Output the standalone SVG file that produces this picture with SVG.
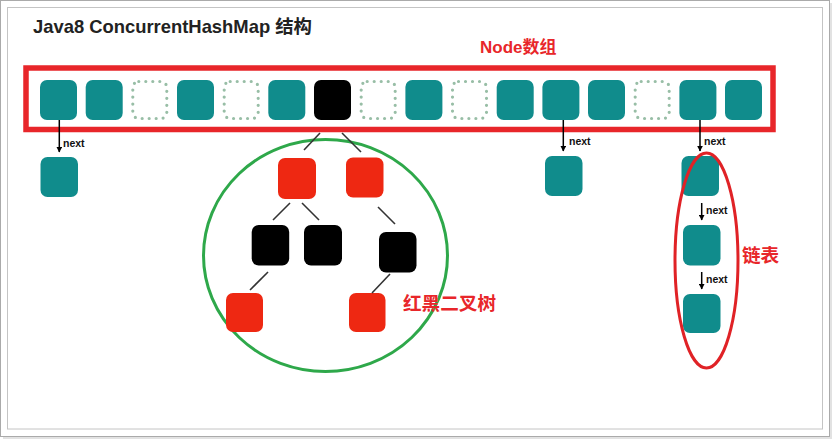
<svg xmlns="http://www.w3.org/2000/svg" width="835" height="442" viewBox="0 0 835 442">
<defs>
<style>
.t{fill:#108c8c}
.b{fill:#000}
.r{fill:#ee2812}
.d{fill:none;stroke:#98bea6;stroke-width:3.2;stroke-dasharray:0 7;stroke-linecap:round}
.ln{stroke:#333;stroke-width:1.6;fill:none}
.ar{stroke:#000;stroke-width:1.5;fill:none}
.nx{font-family:"Liberation Sans",Arial,sans-serif;font-weight:bold;font-size:10.5px;fill:#111}
.lbl{font-family:"Liberation Sans","Noto Sans CJK SC",sans-serif;font-weight:bold;font-size:17px;fill:#e8262a}
.cn{font-size:18.6px}
</style>
<marker id="ah" viewBox="0 0 10 10" refX="9" refY="5" markerWidth="6" markerHeight="6" orient="auto" markerUnits="userSpaceOnUse"><path d="M0,0 L10,5 L0,10 z" fill="#000"/></marker>
</defs>
<rect x="3" y="3" width="829" height="436" fill="#e2e2e2"/>
<rect x="0.5" y="0.5" width="829" height="436" fill="#fff" stroke="#aaa"/>
<rect x="7.5" y="7.5" width="815" height="421.5" fill="#fff" stroke="#c4c4c4"/>
<text x="33" y="33" font-family="'Liberation Sans','Noto Sans CJK SC',sans-serif" font-weight="bold" font-size="18.4" fill="#222">Java8 ConcurrentHashMap 结构</text>
<text class="lbl" x="480" y="53">Node数组</text>
<g id="node-array">
<rect x="26" y="68" width="747" height="61.5" fill="none" stroke="#e8262a" stroke-width="5.5"/>
<rect class="t" x="40" y="80" width="37" height="40" rx="7"/>
<rect class="t" x="85.7" y="80" width="37" height="40" rx="7"/>
<rect class="d" x="132.8" y="81.5" width="34" height="37" rx="6"/>
<rect class="t" x="177" y="80" width="37" height="40" rx="7"/>
<rect class="d" x="224.2" y="81.5" width="34" height="37" rx="6"/>
<rect class="t" x="268.3" y="80" width="37" height="40" rx="7"/>
<rect class="b" x="314" y="80" width="37" height="40" rx="7"/>
<rect class="d" x="361.2" y="81.5" width="34" height="37" rx="6"/>
<rect class="t" x="405.4" y="80" width="37" height="40" rx="7"/>
<rect class="d" x="452.5" y="81.5" width="34" height="37" rx="6"/>
<rect class="t" x="496.7" y="80" width="37" height="40" rx="7"/>
<rect class="t" x="542.4" y="80" width="37" height="40" rx="7"/>
<rect class="t" x="588" y="80" width="37" height="40" rx="7"/>
<rect class="d" x="635.2" y="81.5" width="34" height="37" rx="6"/>
<rect class="t" x="679.4" y="80" width="37" height="40" rx="7"/>
<rect class="t" x="725" y="80" width="37" height="40" rx="7"/>
</g>
<g id="list-0"><rect class="t" x="40.5" y="157" width="37.5" height="40" rx="7"/></g>
<g id="list-11"><rect class="t" x="545" y="156" width="37.5" height="40" rx="7"/></g>
<g id="linked-list">
<rect class="t" x="681.5" y="156" width="37.5" height="40" rx="7"/>
<rect class="t" x="683" y="225" width="37.5" height="40.5" rx="7"/>
<rect class="t" x="683" y="294" width="37.5" height="39" rx="7"/>
<ellipse cx="706.5" cy="260.5" rx="31.5" ry="107.5" fill="none" stroke="#e02226" stroke-width="3"/>
<text class="lbl cn" x="742" y="262">链表</text>
</g>
<g id="tree">
<ellipse cx="325.5" cy="255.5" rx="122" ry="116" fill="none" stroke="#2ea84a" stroke-width="3"/>
<rect class="r" x="278" y="158" width="38" height="41" rx="7"/>
<rect class="r" x="346" y="157.5" width="37.5" height="40" rx="7"/>
<rect class="b" x="251.7" y="225" width="37.5" height="40.5" rx="7"/>
<rect class="b" x="304" y="225" width="38" height="40.5" rx="7"/>
<rect class="b" x="379" y="232" width="37.5" height="40.5" rx="7"/>
<rect class="r" x="226" y="293" width="37" height="39" rx="7"/>
<rect class="r" x="349" y="293" width="36.5" height="39" rx="7"/>
<text class="lbl cn" x="403" y="310">红黑二叉树</text>
</g>
<g id="connectors">
<line class="ln" x1="320" y1="133" x2="304" y2="150"/>
<line class="ln" x1="342" y1="133" x2="361" y2="152"/>
<line class="ln" x1="290" y1="203" x2="273" y2="220"/>
<line class="ln" x1="302" y1="203" x2="319" y2="220"/>
<line class="ln" x1="378" y1="207" x2="395" y2="224"/>
<line class="ln" x1="268" y1="272" x2="250" y2="290"/>
<line class="ln" x1="390" y1="274" x2="372" y2="293"/>
<line class="ar" x1="59.3" y1="120" x2="59.3" y2="152" marker-end="url(#ah)"/>
<text class="nx" x="63" y="147">next</text>
<line class="ar" x1="563.3" y1="120" x2="563.3" y2="151" marker-end="url(#ah)"/>
<text class="nx" x="569" y="145">next</text>
<line class="ar" x1="700" y1="120" x2="700" y2="151" marker-end="url(#ah)"/>
<text class="nx" x="704" y="145">next</text>
<line class="ar" x1="701.7" y1="203" x2="701.7" y2="220" marker-end="url(#ah)"/>
<text class="nx" x="706" y="214">next</text>
<line class="ar" x1="701.7" y1="272" x2="701.7" y2="289" marker-end="url(#ah)"/>
<text class="nx" x="706" y="283">next</text>
</g>
</svg>
